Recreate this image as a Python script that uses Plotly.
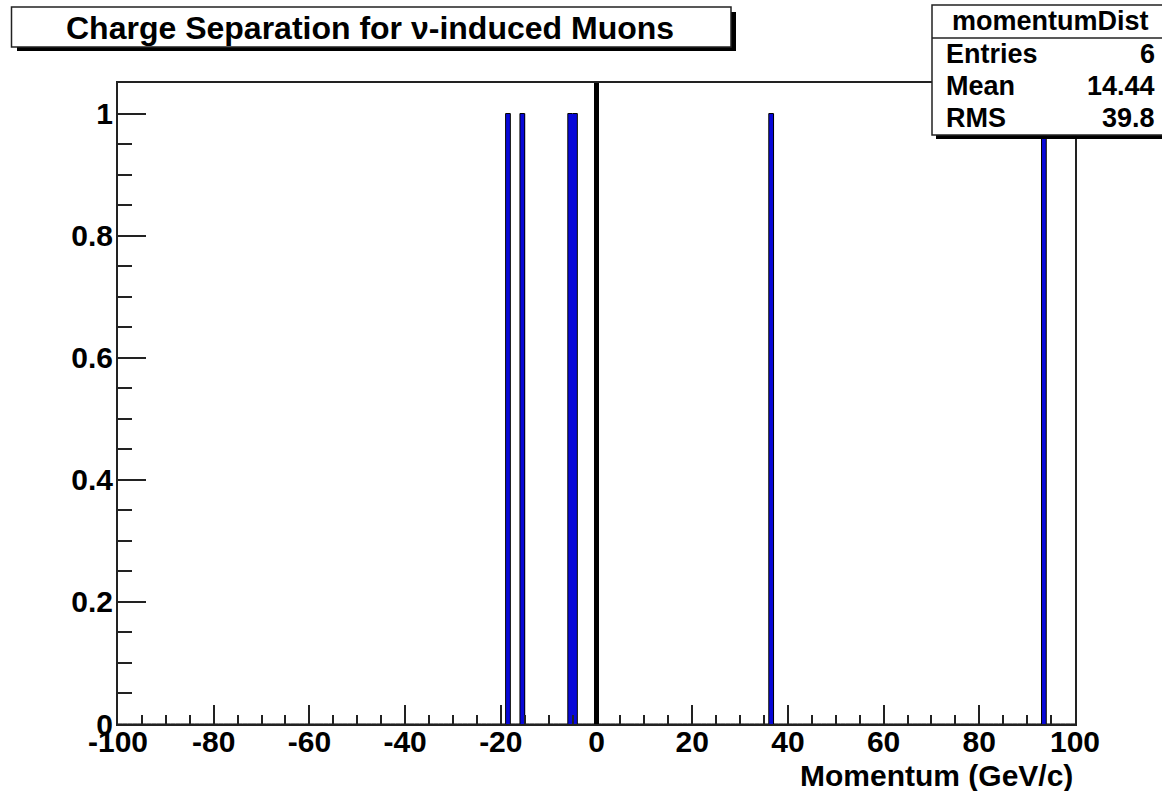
import numpy as np
import plotly.graph_objects as go

# Reconstructed muon momenta (GeV/c); sign gives the charge
momenta = [-18.4, -15.3, -5.2, -4.6, 36.2, 93.94]

# Histogram binning
n_bins = 200
x_min, x_max = -100, 100

x_tick_vals = [-100, -80, -60, -40, -20, 0, 20, 40, 60, 80, 100]
x_tick_text = ["-100", "-80", "-60", "-40", "-20", "0", "20", "40", "60", "80", "100"]
y_tick_vals = [0, 0.2, 0.4, 0.6, 0.8, 1]
y_tick_text = ["0", "0.2", "0.4", "0.6", "0.8", "1"]

hist_name = "momentumDist"
title_text = "Charge Separation for \u03bd-induced Muons"
x_title = "Momentum (GeV/c)"

counts, edges = np.histogram(momenta, bins=n_bins, range=(x_min, x_max))
centers = 0.5 * (edges[:-1] + edges[1:])
filled = counts > 0

arr = np.asarray(momenta)
mean_val = arr.mean()
rms_val = arr.std()

# page geometry (pixels)
W, H = 1162, 791
L, R, T, B = 118, 1075, 83, 724
PW, PH = R - L, B - T


def px(x):
    return (x - L) / PW


def py(y):
    return (B - y) / PH


FONT = "Liberation Sans, Arial, Helvetica, sans-serif"
BAR_BLUE = "#0808d8"

fig = go.Figure()

fig.add_trace(go.Bar(
    x=centers[filled], y=counts[filled], width=edges[1] - edges[0],
    marker=dict(color=BAR_BLUE, line=dict(width=0)),
    hoverinfo="skip", showlegend=False,
))

# histogram outline as a step line
step_x = list(edges[:-1]) + [edges[-1]]
step_y = list(counts) + [counts[-1]]
fig.add_trace(go.Scatter(
    x=step_x, y=step_y, mode="lines", line=dict(color="black", width=1, shape="hv"),
    hoverinfo="skip", showlegend=False,
))

shapes = []
# charge separator at zero momentum
shapes.append(dict(type="line", xref="x", yref="paper", x0=0, x1=0, y0=0, y1=1,
                   line=dict(color="black", width=5), layer="above"))

# title box with shadow
shapes.append(dict(type="rect", xref="paper", yref="paper",
                   x0=px(17), x1=px(736), y0=py(51), y1=py(12),
                   fillcolor="black", line=dict(width=0), layer="above"))
shapes.append(dict(type="rect", xref="paper", yref="paper",
                   x0=px(11.5), x1=px(731), y0=py(47), y1=py(7),
                   fillcolor="white", line=dict(color="#222", width=1.5), layer="above"))

# statistics box with shadow
shapes.append(dict(type="rect", xref="paper", yref="paper",
                   x0=px(936), x1=px(1175), y0=py(139), y1=py(10),
                   fillcolor="black", line=dict(width=0), layer="above"))
shapes.append(dict(type="rect", xref="paper", yref="paper",
                   x0=px(932), x1=px(1175), y0=py(135), y1=py(5),
                   fillcolor="white", line=dict(color="#222", width=1.5), layer="above"))
shapes.append(dict(type="line", xref="paper", yref="paper",
                   x0=px(932), x1=px(1175), y0=py(38), y1=py(38),
                   line=dict(color="#222", width=1.5), layer="above"))

annotations = []
annotations.append(dict(text=title_text, xref="paper", yref="paper",
                        x=px(370), y=py(28), xanchor="center", yanchor="middle",
                        showarrow=False, font=dict(family=FONT, size=32, color="black", weight="bold")))
annotations.append(dict(text=hist_name, xref="paper", yref="paper",
                        x=px(1050), y=py(21), xanchor="center", yanchor="middle",
                        showarrow=False, font=dict(family=FONT, size=27, color="black", weight="bold")))

stat_rows = [("Entries", str(len(momenta)), 54),
             ("Mean", format(mean_val, ".4g"), 86),
             ("RMS", format(rms_val, ".4g"), 118)]
for label, value, yc in stat_rows:
    annotations.append(dict(text=label, xref="paper", yref="paper",
                            x=px(944), y=py(yc), xanchor="left", yanchor="middle",
                            showarrow=False, font=dict(family=FONT, size=27, color="black", weight="bold")))
    annotations.append(dict(text=value, xref="paper", yref="paper",
                            x=px(1157), y=py(yc), xanchor="right", yanchor="middle",
                            showarrow=False, font=dict(family=FONT, size=27, color="black", weight="bold")))

annotations.append(dict(text=x_title, xref="paper", yref="paper",
                        x=px(1075), y=py(775), xanchor="right", yanchor="middle",
                        showarrow=False, font=dict(family=FONT, size=30, color="black", weight="bold")))

tick_font = dict(family=FONT, size=30, color="black", weight="bold")

fig.update_layout(
    width=W, height=H,
    margin=dict(l=L, r=W - R, t=T, b=H - B, pad=0),
    paper_bgcolor="white", plot_bgcolor="white",
    bargap=0, shapes=shapes, annotations=annotations,
    xaxis=dict(range=[x_min, x_max], tickmode="array", tickvals=x_tick_vals, ticktext=x_tick_text,
               ticks="inside", ticklen=19, tickwidth=1.5, tickcolor="#222",
               minor=dict(dtick=5, tick0=0, ticks="inside", ticklen=9, tickwidth=1.5, tickcolor="#222",
                          showgrid=False),
               showgrid=False, zeroline=False, showline=True, linecolor="#222", linewidth=2, mirror=True,
               tickfont=tick_font, ticklabelstandoff=-10),
    yaxis=dict(range=[0, 1.05], tickmode="array", tickvals=y_tick_vals, ticktext=y_tick_text,
               ticks="inside", ticklen=28, tickwidth=1.5, tickcolor="#222",
               minor=dict(dtick=0.05, tick0=0, ticks="inside", ticklen=14, tickwidth=1.5, tickcolor="#222",
                          showgrid=False),
               showgrid=False, zeroline=False, showline=True, linecolor="#222", linewidth=2, mirror=True,
               tickfont=tick_font, ticklabelstandoff=-3),
)

fig.write_html("out.html")
